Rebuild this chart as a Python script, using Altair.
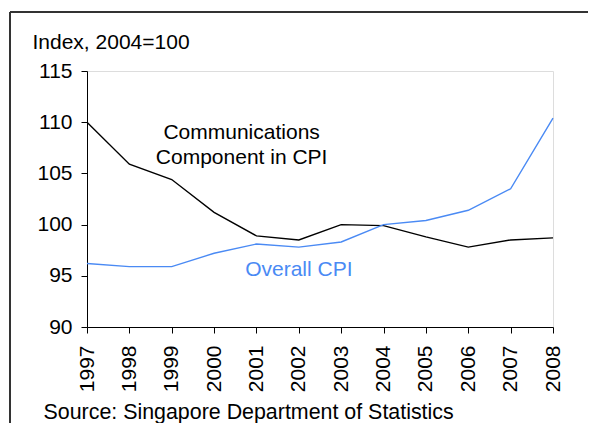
import altair as alt
import pandas as pd

# ---- data ----
years = list(range(1997, 2009))
comm_values = [110.0, 105.9, 104.4, 101.2, 98.9, 98.5, 100.0, 99.9, 98.8, 97.8, 98.5, 98.7]
cpi_values = [96.2, 95.9, 95.9, 97.2, 98.1, 97.8, 98.3, 100.0, 100.4, 101.4, 103.5, 110.4]
series_names = ["Communications Component in CPI", "Overall CPI"]
series_colors = ["#000000", "#4a8af4"]
y_ticks = [90, 95, 100, 105, 110, 115]
ann_text = ["Communications\nComponent in CPI", "Overall CPI"]
ann_year = [2000.65, 2002.0]
ann_value = [108.9, 95.6]
y_title = "Index, 2004=100"
source_text = "Source: Singapore Department of Statistics"

FONT = "Liberation Sans"
FS = 21

df = pd.DataFrame({
    "year": years * 2,
    "value": comm_values + cpi_values,
    "series": [series_names[0]] * len(years) + [series_names[1]] * len(years),
})
ann_df = pd.DataFrame({"text": ann_text, "year": ann_year, "value": ann_value,
                       "series": series_names})

color_scale = alt.Scale(domain=series_names, range=series_colors)
x_scale = alt.Scale(domain=[years[0], years[-1]], nice=False, zero=False)
y_scale = alt.Scale(domain=[y_ticks[0], y_ticks[-1]], nice=False, zero=False)

x_enc = alt.X("year:Q", scale=x_scale, title=source_text,
              axis=alt.Axis(values=years, format="d", labelAngle=270,
                            labelFontSize=FS, labelFont=FONT, labelColor="black",
                            labelPadding=12, tickSize=6, tickColor="black",
                            domainColor="black", grid=False, labelFlush=False,
                            labelOverlap=False,
                            titleAngle=0, titleAlign="left", titleBaseline="alphabetic",
                            titleX=-44, titleY=91, titleFontSize=21.4, titleFont=FONT,
                            titleFontWeight="normal", titleColor="black"))
y_enc = alt.Y("value:Q", scale=y_scale, title=y_title,
              axis=alt.Axis(values=y_ticks, labelFontSize=FS, labelFont=FONT,
                            labelColor="black", labelPadding=9, tickSize=6,
                            tickColor="black", domainColor="black", grid=False,
                            titleAngle=0, titleAlign="left", titleBaseline="alphabetic",
                            titleX=-55, titleY=-23, titleFontSize=FS, titleFont=FONT,
                            titleFontWeight="normal", titleColor="black"))

lines = alt.Chart(df).mark_line(strokeWidth=1.4).encode(
    x=x_enc, y=y_enc,
    color=alt.Color("series:N", scale=color_scale, legend=None),
)

labels = alt.Chart(ann_df).mark_text(
    font=FONT, fontSize=FS, align="center", baseline="middle",
    lineBreak="\n", lineHeight=25,
).encode(
    x=alt.X("year:Q", scale=x_scale),
    y=alt.Y("value:Q", scale=y_scale),
    text="text:N",
    color=alt.Color("series:N", scale=color_scale, legend=None),
)

frame_df = pd.DataFrame({"k": [0]})
frame_left = alt.Chart(frame_df).mark_rule(color="#333333", strokeWidth=2).encode(
    x=alt.value(-77), y=alt.value(-59), y2=alt.value(400))
frame_top = alt.Chart(frame_df).mark_rule(color="#333333", strokeWidth=2).encode(
    x=alt.value(-77), x2=alt.value(520), y=alt.value(-59))

chart = alt.layer(lines, labels, frame_left, frame_top).properties(
    width=466, height=256,
    autosize=alt.AutoSizeParams(type="none"),
    padding={"left": 79, "top": 63, "right": 35, "bottom": 96},
).configure_view(stroke=None).configure(background="white")

chart.save("out.html", embed_options={"renderer": "svg", "actions": False})
